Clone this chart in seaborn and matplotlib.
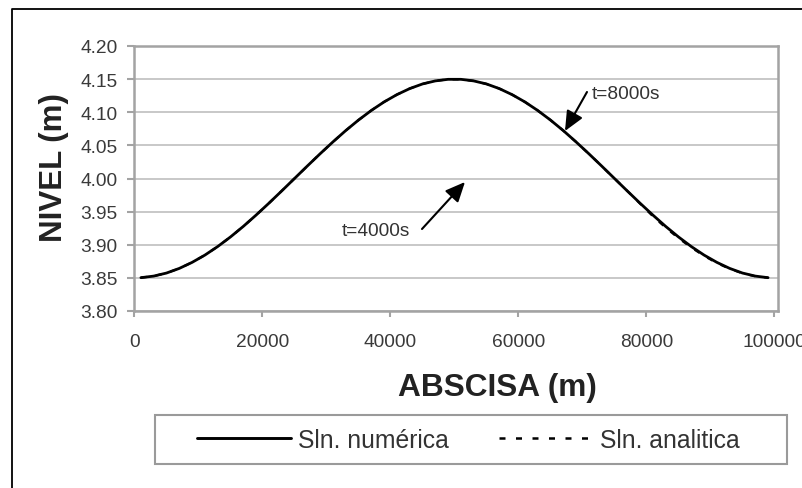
import matplotlib
matplotlib.use("Agg")
import matplotlib.pyplot as plt
import seaborn as sns
import pandas as pd
from matplotlib.lines import Line2D
from matplotlib.patches import Rectangle

# ---- data ----
abscisa = [1000, 3000, 5000, 7000, 9000, 11000, 13000, 15000, 17000, 19000,
           21000, 23000, 25000, 27000, 29000, 31000, 33000, 35000, 37000, 39000,
           41000, 43000, 45000, 47000, 49000, 51000, 53000, 55000, 57000, 59000,
           61000, 63000, 65000, 67000, 69000, 71000, 73000, 75000, 77000, 79000,
           81000, 83000, 85000, 87000, 89000, 91000, 93000, 95000, 97000, 99000]
nivel_numerica = [3.8503, 3.8527, 3.8573, 3.8643, 3.8734, 3.8844, 3.8973, 3.9118, 3.9277, 3.9448,
                  3.9627, 3.9812, 4.0000, 4.0188, 4.0373, 4.0552, 4.0723, 4.0882, 4.1027, 4.1156,
                  4.1266, 4.1357, 4.1427, 4.1473, 4.1497, 4.1497, 4.1473, 4.1427, 4.1357, 4.1266,
                  4.1156, 4.1027, 4.0882, 4.0723, 4.0552, 4.0373, 4.0188, 4.0000, 3.9812, 3.9627,
                  3.9448, 3.9277, 3.9118, 3.8973, 3.8844, 3.8734, 3.8643, 3.8573, 3.8527, 3.8503]
nivel_analitica = [3.8503, 3.8527, 3.8573, 3.8643, 3.8734, 3.8844, 3.8973, 3.9118, 3.9277, 3.9448,
                   3.9627, 3.9812, 4.0000, 4.0188, 4.0373, 4.0552, 4.0723, 4.0882, 4.1027, 4.1156,
                   4.1266, 4.1357, 4.1427, 4.1473, 4.1497, 4.1497, 4.1473, 4.1427, 4.1357, 4.1266,
                   4.1156, 4.1027, 4.0882, 4.0723, 4.0552, 4.0373, 4.0188, 4.0000, 3.9812, 3.9620,
                   3.9430, 3.9258, 3.9100, 3.8958, 3.8832, 3.8724, 3.8637, 3.8569, 3.8524, 3.8502]
x_ticks = [0, 20000, 40000, 60000, 80000, 100000]
x_ticklabels = ["0", "20000", "40000", "60000", "80000", "100000"]
y_ticks = [3.80, 3.85, 3.90, 3.95, 4.00, 4.05, 4.10, 4.15, 4.20]
y_ticklabels = ["3.80", "3.85", "3.90", "3.95", "4.00", "4.05", "4.10", "4.15", "4.20"]
series_labels = ["Sln. numérica", "Sln. analitica"]

df = pd.DataFrame({"x": abscisa, "num": nivel_numerica, "ana": nivel_analitica})

sns.set_style("white")
plt.rcParams["font.family"] = ["Liberation Sans", "DejaVu Sans"]

W, H = 803, 489
fig = plt.figure(figsize=(W / 100, H / 100), dpi=100)
fig.patch.set_facecolor("white")

def fx(px):
    return px / W

def fy(py):
    return 1 - py / H

ax = fig.add_axes([fx(134.5), fy(312), fx(778) - fx(134.5), fy(47) - fy(312)])

sns.lineplot(data=df, x="x", y="num", ax=ax, color="black", lw=2.0,
             label=series_labels[0], sort=False)
sns.lineplot(data=df, x="x", y="ana", ax=ax, color="black", lw=1.6,
             linestyle=(0, (2.7, 4.1)), label=series_labels[1], sort=False)
handles, labels = ax.get_legend_handles_labels()
if ax.get_legend() is not None:
    ax.get_legend().remove()

# legend handles: reproduce the legend's wider dash spacing
leg_handles = [
    Line2D([], [], color="black", lw=2.1),
    Line2D([], [], color="black", lw=1.8, linestyle=(0, (2.4, 4.2))),
]

ax.set_xlim(0, 100550)
ax.set_ylim(3.80, 4.20)
ax.set_xticks(x_ticks)
ax.set_xticklabels(x_ticklabels)
ax.set_yticks(y_ticks)
ax.set_yticklabels(y_ticklabels)
ax.set_xlabel("")
ax.set_ylabel("")

spine_col = "#a3a3a3"
for s in ax.spines.values():
    s.set_visible(True)
    s.set_color(spine_col)
    s.set_linewidth(1.8)

ax.yaxis.grid(True, color="#c4c4c4", lw=1.3)
ax.xaxis.grid(False)
ax.set_axisbelow(True)

ax.tick_params(axis="y", direction="out", length=5, width=1.5, color=spine_col,
               labelsize=13.8, labelcolor="#3a3a3a", pad=7, left=True)
ax.tick_params(axis="x", direction="out", length=4.5, width=1.5, color=spine_col,
               labelsize=13.8, labelcolor="#3a3a3a", pad=11, bottom=True)

# axis titles
fig.text(fx(497), fy(396), "ABSCISA (m)", fontsize=22.8, fontweight="bold",
         color="#222222", ha="center", va="baseline")
fig.text(fx(62), fy(168), "NIVEL (m)", fontsize=22.5, fontweight="bold",
         color="#222222", ha="center", va="baseline", rotation=90,
         rotation_mode="anchor")

# annotations
def dx(px):
    return (px - 134.5) / 640 * 100000

def dy(py):
    return 4.20 - (py - 47) / 33.125 * 0.05

arrow_kw = dict(arrowstyle="-|>,head_length=0.6,head_width=0.27", color="black",
                lw=1.5, mutation_scale=20, shrinkA=0, shrinkB=0)
ax.annotate("", xy=(dx(465), dy(183)), xytext=(dx(422), dy(230)), arrowprops=arrow_kw)
ax.text(dx(410), dy(232), "t=4000s", fontsize=13.8, color="#333333",
        ha="right", va="center")
ax.annotate("", xy=(dx(565), dy(132)), xytext=(dx(587), dy(93)), arrowprops=arrow_kw)
ax.text(dx(592), dy(95), "t=8000s", fontsize=13.8, color="#333333",
        ha="left", va="center")

# legend box and legend
fig.add_artist(Rectangle((fx(155), fy(465)), fx(787) - fx(155), fy(416) - fy(465),
                         transform=fig.transFigure, fill=False,
                         edgecolor="#9a9a9a", lw=1.5))
fig.legend(leg_handles, labels, loc="center left", bbox_to_anchor=(fx(197), fy(441)),
           ncol=2, frameon=False, borderpad=0, borderaxespad=0,
           handlelength=3.8, handletextpad=0.3, columnspacing=2.0,
           fontsize=17.8, labelcolor="#333333")

# outer border
fig.add_artist(Line2D([fx(12), fx(12), fx(803)], [fy(489), fy(10), fy(10)],
                      transform=fig.transFigure, color="black", lw=1.3))

fig.savefig("out.png", dpi=100)
